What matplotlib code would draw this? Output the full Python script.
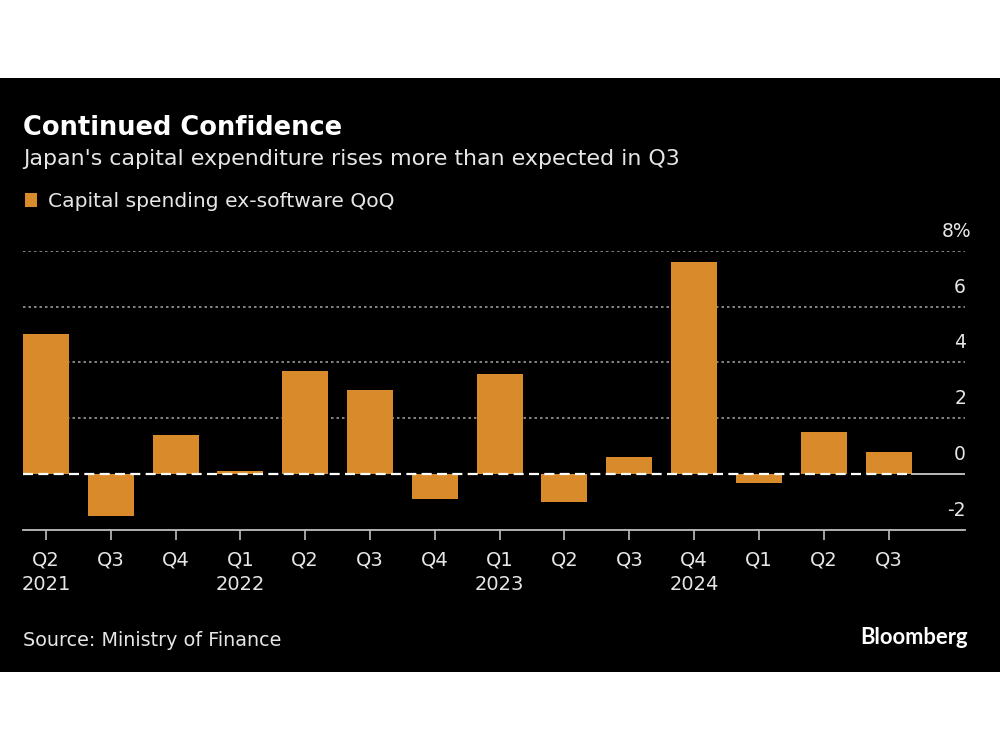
import numpy as np
import matplotlib
matplotlib.use('Agg')
from matplotlib import pyplot as plt
from matplotlib import transforms
from matplotlib.patches import Rectangle

# quarterly capex ex-software, % QoQ
quarters = ['Q2', 'Q3', 'Q4', 'Q1', 'Q2', 'Q3', 'Q4', 'Q1', 'Q2', 'Q3', 'Q4', 'Q1', 'Q2', 'Q3']
years = ['2021', '', '', '2022', '', '', '', '2023', '', '', '2024', '', '', '']
capex = [5.0, -1.5, 1.4, 0.1, 3.7, 3.0, -0.9, 3.6, -1.0, 0.6, 7.6, -0.3, 1.5, 0.8]
y_ticks = [-2, 0, 2, 4, 6, 8]
y_labels = ['-2', '0', '2', '4', '6', '8%']

orange = '#D98A2B'
txt = '#E6E6E6'
W, H = 1000, 750

fig = plt.figure(figsize=(10, 7.5), dpi=100, facecolor='white')
fig.patches.append(Rectangle((0, 1 - 672 / H), 1, (672 - 78) / H, transform=fig.transFigure,
                             facecolor='black', edgecolor='none', zorder=-1))

ax = fig.add_axes([23 / W, 1 - 530 / H, (965 - 23) / W, (530 - 250.7) / H])
ax.set_facecolor('none')

x = np.arange(len(capex))
bw = 0.71
ax.bar(x, capex, width=bw, color=orange, zorder=2)
ax.set_xlim(-bw / 2, 14.18)
ax.set_ylim(-2, 8)

# dotted grid
for v in y_ticks[2:]:
    ax.axhline(v, color='#9A9A9A', lw=1.2, ls=(0, (1.5, 1.8)), zorder=1)

# zero line: dashed across the bars, solid after
ax.plot([-bw / 2, x[-1] + bw / 2], [0, 0], color='white', lw=1.6, ls=(0, (4.5, 2.4)), zorder=3)
ax.plot([x[-1] + bw / 2, 14.18], [0, 0], color='#BBBBBB', lw=1.4, zorder=3)

for s in ['top', 'right', 'left']:
    ax.spines[s].set_visible(False)
ax.spines['bottom'].set_color('#BFBFBF')
ax.spines['bottom'].set_linewidth(1.3)

labels = [q + ('\n' + y if y else '') for q, y in zip(quarters, years)]
ax.set_xticks(x)
ax.set_xticklabels(labels, fontsize=14, color=txt, va='top', linespacing=1.35)
ax.tick_params(axis='x', length=7, width=1.2, color='#BFBFBF', pad=8)
ax.set_yticks([])

# y labels sit above their gridlines, on the right
off = transforms.ScaledTranslation(0, 14 / 100, fig.dpi_scale_trans)
for v, lab in zip(y_ticks, y_labels):
    dx = 6 / 100 if lab.endswith('%') else 1 / 100
    t = ax.get_yaxis_transform() + off + transforms.ScaledTranslation(dx, 0, fig.dpi_scale_trans)
    ax.text(1.0, v, lab, transform=t, ha='right', va='baseline', fontsize=13.5, color=txt)

fig.text(23 / W, 1 - 135 / H, 'Continued Confidence', fontsize=18.5, weight='bold',
         color='white', va='baseline')
fig.text(23 / W, 1 - 165 / H, "Japan's capital expenditure rises more than expected in Q3",
         fontsize=15.9, color=txt, va='baseline')

fig.patches.append(Rectangle((25 / W, 1 - 207 / H), 12 / W, 14 / H, transform=fig.transFigure,
                             facecolor=orange, edgecolor='none', zorder=2))
fig.text(48 / W, 1 - 207 / H, 'Capital spending ex-software QoQ', fontsize=14.6,
         color=txt, va='baseline')

fig.text(23 / W, 1 - 646 / H, 'Source: Ministry of Finance', fontsize=13.8,
         color=txt, va='baseline')
fig.text(968 / W, 1 - 644 / H, 'Bloomberg', fontsize=15.8, weight='bold', family='Lato',
         color='white', ha='right', va='baseline')

fig.savefig('out.png', dpi=100, facecolor='white')
